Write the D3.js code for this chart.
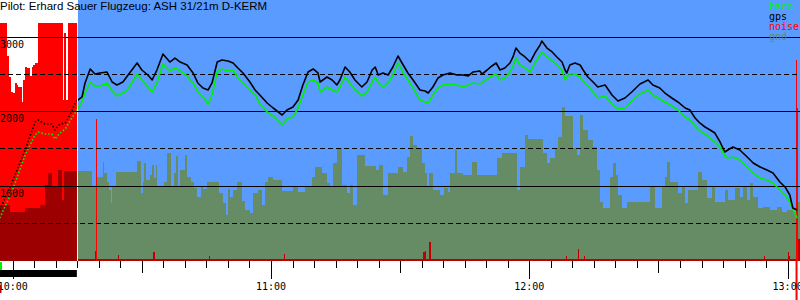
<!DOCTYPE html>
<html><head><meta charset="utf-8">
<script src="https://cdn.jsdelivr.net/npm/d3@7"></script>
<style>body{margin:0;background:#fff}svg{display:block}</style>
</head><body>
<svg id="c" width="800" height="300"></svg>
<script>
const title = "Pilot: Erhard Sauer Flugzeug: ASH 31/21m D-KERM";
// minutes after 10:00
const timeRange = [-2.95, 182.87];
const enginePhase = [-3.0, 14.9];
const glidePhase = [15.15, 182.9];
const landingMark = 181.95;

const times = [-3.0,-0.2,2.9,5.2,5.9,7.5,9.1,9.8,11.0,12.2,
13.3,14.5,14.9,16.1,16.8,18.0,19.1,20.3,21.9,23.1,
24.2,25.6,26.8,28.9,30.0,31.4,32.4,33.5,34.9,36.5,
37.7,38.9,40.5,41.9,43.0,44.2,45.4,46.3,47.5,48.6,
50.0,51.2,52.3,53.5,55.1,56.3,57.4,59.1,60.5,62.6,
63.7,65.1,66.3,67.4,68.6,69.8,70.9,71.4,73.0,74.2,
75.3,76.0,77.2,78.3,79.5,81.1,82.3,83.5,84.2,84.9,
86.0,87.2,88.3,89.5,90.7,91.8,93.0,94.6,95.8,96.5,
97.6,98.8,99.9,101.6,103.2,104.6,105.8,106.9,108.5,109.0,
110.2,111.3,112.3,113.2,114.3,115.5,116.2,116.9,117.8,119.0,
120.2,121.3,122.5,122.9,124.1,125.3,126.4,127.6,128.3,128.7,
129.4,130.6,131.8,132.5,133.6,134.8,135.9,137.6,139.2,140.6,
142.2,143.8,145.7,147.6,148.7,150.3,151.5,153.1,154.5,156.2,
157.3,158.5,159.6,160.8,162.0,163.1,164.3,165.4,166.1,167.3,
168.9,170.6,172.0,173.6,175.2,176.6,178.2,179.4,180.5,181.2,
182.2];

const gpsAlt = [678,1040,1483,1859,1886,1832,1832,1752,1832,1846,
1953,2114,2141,2195,2383,2571,2503,2517,2530,2396,
2356,2396,2490,2651,2557,2490,2423,2557,2772,2664,
2718,2664,2624,2517,2383,2315,2289,2383,2664,2691,
2678,2651,2584,2517,2396,2289,2221,2114,2047,1953,
2020,2060,2154,2356,2530,2571,2517,2396,2463,2423,
2356,2423,2597,2530,2423,2329,2396,2557,2597,2490,
2517,2490,2597,2745,2624,2517,2423,2289,2275,2248,
2329,2450,2490,2517,2490,2490,2477,2530,2544,2503,
2557,2611,2651,2557,2584,2651,2732,2852,2785,2732,
2664,2785,2893,2946,2852,2799,2732,2664,2557,2517,
2624,2651,2624,2557,2463,2396,2329,2356,2221,2141,
2181,2262,2369,2423,2356,2315,2248,2181,2128,2047,
2020,1913,1846,1792,1752,1711,1591,1456,1483,1524,
1483,1389,1309,1255,1215,1174,1054,987,879,705,
678];

const baroAlt = [570,919,1416,1685,1725,1698,1698,1631,1711,1765,
1873,1980,2020,2128,2248,2396,2342,2342,2383,2275,
2208,2248,2302,2503,2423,2329,2262,2383,2638,2544,
2584,2544,2477,2383,2262,2195,2101,2221,2530,2571,
2544,2557,2450,2383,2289,2221,2101,1993,1940,1819,
1899,1926,2047,2221,2396,2423,2383,2262,2329,2289,
2262,2329,2463,2383,2289,2208,2262,2396,2463,2383,
2329,2383,2490,2651,2517,2423,2315,2154,2128,2114,
2221,2315,2356,2369,2356,2329,2356,2383,2369,2383,
2436,2477,2503,2423,2450,2530,2611,2718,2624,2584,
2530,2651,2758,2799,2732,2678,2624,2557,2423,2463,
2503,2503,2463,2409,2342,2262,2181,2208,2101,2034,
2047,2141,2235,2289,2221,2168,2128,2074,2020,1926,
1886,1805,1738,1698,1644,1591,1524,1403,1376,1389,
1349,1255,1174,1107,1081,1040,946,879,785,691,
570];

const gndT = [-3.0,-0.6,2.9,6.3,7.5,8.2,9.1,10.5,11.5,11.9,
18.4,19.4,21.0,21.2,21.9,22.4,22.8,23.1,24.0,28.9,
29.8,30.3,30.5,31.0,31.9,32.4,32.8,33.3,33.5,35.1,
35.8,36.8,37.5,37.9,38.4,38.9,40.0,40.5,41.4,42.1,
42.8,43.7,44.2,45.1,47.9,48.9,49.5,50.0,50.5,51.2,
52.1,53.3,54.0,55.1,55.8,57.0,57.9,58.6,59.3,60.5,
62.6,65.1,66.3,67.9,69.5,70.2,71.8,73.0,73.7,74.4,
75.3,76.5,77.6,78.3,79.0,80.0,81.8,84.4,85.1,86.0,
87.2,89.5,90.7,91.6,92.3,93.0,93.9,95.1,95.8,96.2,
96.7,97.6,99.3,100.2,101.1,101.6,102.7,103.2,104.6,106.7,
107.8,112.5,113.7,117.1,117.8,119.0,119.7,123.2,124.1,124.8,
126.0,126.7,127.6,128.3,130.1,131.1,131.8,132.5,133.6,134.8,
135.7,136.4,137.1,138.7,139.4,140.1,140.6,141.5,142.7,148.0,
149.2,150.8,151.5,152.0,152.7,154.5,155.5,156.2,156.9,159.2,
160.1,161.3,162.4,163.1,165.4,166.1,167.8,168.9,169.6,170.6,
171.3,172.0,173.1,174.3,175.9,177.5,178.7,179.8,181.2,182.2,
182.9];

const gndAlt = [745,651,705,745,1013,1174,987,1215,812,1201,
987,1121,1322,1174,1054,946,772,987,1188,1336,
906,1054,1309,1081,1148,1282,1107,1282,987,1054,
1443,987,1174,1403,987,1215,1416,1121,1054,973,
852,987,960,1054,906,772,611,960,852,946,
1054,799,678,638,906,946,745,1054,1121,1081,
933,987,919,987,1121,1255,1174,1040,987,1309,
1510,1013,906,1013,745,1416,1268,1215,1282,879,
1174,1255,1188,1389,1671,1550,1510,1309,1174,1000,
1174,946,879,973,919,1174,1483,1174,1148,1322,
1148,1376,1443,946,1255,1685,1631,1443,1309,1376,
1510,1658,2060,1940,1510,1416,1953,1752,1617,1524,
1215,785,705,1121,1309,1148,879,705,785,987,
705,987,1121,1322,1054,906,987,772,946,1188,
1081,839,987,785,946,812,973,852,987,812,
1040,852,705,718,678,718,651,678,651,785,
785];

const noiseT = [-3.0,-1.4,-0.9,-0.4,0.1,0.5,1.0,1.2,1.7,2.2,
2.4,2.9,3.3,4.0,4.5,4.7,5.2,5.9,11.7,11.9,
12.4,12.8,14.9,15.15,19.1,19.35,19.6,24.4,24.65,32.7,
32.95,45.5,45.75,63.0,63.25,95.2,95.7,96.0,96.8,97.05,
128.6,128.85,131.4,131.65,132.6,132.85,174.6,174.85,180.0,180.25,
180.5,181.95,182.2,182.45,182.9];
const noiseV = [995,857,769,706,702,744,736,727,727,665,
757,811,807,774,811,820,828,995,673,954,
673,995,0,8,40,593,8,23,8,36,
8,19,8,27,8,36,40,8,77,8,
19,8,48,8,19,8,19,8,36,19,
8,840,640,92,92];

const altSolid = [1000, 2000, 3000];
const altDashed = [500, 1500, 2500];
const legendItems = ["baro", "gps", "noise", "gnd"];
const colors = {baro:"#00f000", gps:"#000000", noise:"#ff0000", gnd:"#658c64",
  sky:"#5a9bff", engineGnd:"#9c0000", lowNoise:"#c00000"};

const W = 800, H = 300;
const base = new Date(2000, 0, 1, 10, 0, 0);
const toDate = m => new Date(base.getTime() + m * 60000);
const x = d3.scaleTime().domain(timeRange.map(toDate)).range([0, W]);
const y = d3.scaleLinear().domain([0, 3000]).range([260.5, 37]);
const yn = d3.scaleLinear().domain([0, 1000]).range([260.5, 22]);
const xm = m => x(toDate(m));

const svg = d3.select("#c");
const defs = svg.append("defs");
defs.append("clipPath").attr("id","engClip").append("rect")
  .attr("x", xm(enginePhase[0])).attr("y", 0)
  .attr("width", xm(enginePhase[1]) - xm(enginePhase[0])).attr("height", H);
defs.append("clipPath").attr("id","glideClip").append("rect")
  .attr("x", xm(glidePhase[0])).attr("y", 0)
  .attr("width", W - xm(glidePhase[0])).attr("height", H);

// sky background during glide
svg.append("rect").attr("x", xm(glidePhase[0])).attr("y", 0)
  .attr("width", xm(glidePhase[1]) - xm(glidePhase[0])).attr("height", y(0))
  .attr("fill", colors.sky);

const gnd = gndT.map((t, i) => ({t, a: gndAlt[i]}));
const gArea = d3.area().x(d => xm(d.t)).y0(y(0)).y1(d => y(d.a)).curve(d3.curveStepAfter);
svg.append("path").datum(gnd).attr("d", gArea).attr("fill", colors.gnd)
  .attr("clip-path", "url(#glideClip)").attr("shape-rendering", "crispEdges");

// noise bars
const noise = noiseT.map((t, i) => ({t, v: noiseV[i]}));
const nb = [];
for (let i = 0; i < noise.length - 1; i++) {
  if (noise[i].v <= 0) continue;
  nb.push({x0: xm(noise[i].t), x1: xm(noise[i+1].t), v: noise[i].v});
}
svg.append("g").selectAll("rect").data(nb).join("rect")
  .attr("x", d => d.x0).attr("width", d => Math.max(1, d.x1 - d.x0))
  .attr("y", d => yn(d.v)).attr("height", d => yn(0) - yn(d.v))
  .attr("fill", d => d.v >= 300 ? colors.noise : colors.lowNoise)
  .attr("shape-rendering", "crispEdges");

svg.append("path").datum(gnd).attr("d", gArea).attr("fill", colors.engineGnd)
  .attr("clip-path", "url(#engClip)").attr("shape-rendering", "crispEdges");

// grid
const grid = svg.append("g").attr("stroke", "#000").attr("stroke-width", 1).attr("shape-rendering", "crispEdges");
altSolid.forEach(v => grid.append("line").attr("x1", 0).attr("x2", W)
  .attr("y1", Math.floor(y(v)) + 0.5).attr("y2", Math.floor(y(v)) + 0.5));
altDashed.forEach(v => grid.append("line").attr("x1", 0).attr("x2", W)
  .attr("y1", Math.floor(y(v)) + 0.5).attr("y2", Math.floor(y(v)) + 0.5)
  .attr("stroke-dasharray", "5,3"));

// altitude lines
const track = times.map((t, i) => ({t, g: gpsAlt[i], b: baroAlt[i]}));
const lb = d3.line().x(d => xm(d.t)).y(d => y(d.b));
const lg = d3.line().x(d => xm(d.t)).y(d => y(d.g));
[["glideClip", null], ["engClip", "1.5,2"]].forEach(([clip, dash]) => {
  svg.append("path").datum(track).attr("d", lb).attr("fill", "none")
    .attr("stroke", colors.baro).attr("stroke-width", 1.6).attr("stroke-linejoin", "round")
    .attr("stroke-dasharray", dash).attr("clip-path", `url(#${clip})`);
  svg.append("path").datum(track).attr("d", lg).attr("fill", "none")
    .attr("stroke", colors.gps).attr("stroke-width", 1.6).attr("stroke-linejoin", "round")
    .attr("stroke-dasharray", dash).attr("clip-path", `url(#${clip})`);
});

// landing cursor
svg.append("line").attr("x1", xm(landingMark) + 0.5).attr("x2", xm(landingMark) + 0.5)
  .attr("y1", yn(0)).attr("y2", H).attr("stroke", colors.noise).attr("stroke-width", 2);

// time axis
const ticks = x.ticks(d3.timeMinute.every(5));
const ax = svg.append("g");
ticks.forEach(d => {
  const m = d.getMinutes();
  const len = m === 0 ? 18 : (m === 30 ? 12 : 7);
  const px = Math.round(x(d)) + 0.5;
  ax.append("line").attr("x1", px).attr("x2", px).attr("y1", 261).attr("y2", 261 + len)
    .attr("stroke", "#000").attr("stroke-width", 1).attr("shape-rendering", "crispEdges");
  if (m === 0) ax.append("text").attr("x", x(d)).attr("y", 290).attr("text-anchor", "middle")
    .attr("font-family", "DejaVu Sans Mono, monospace").attr("font-size", 10)
    .text(d3.timeFormat("%H:%M")(d));
});
// engine run bar
svg.append("rect").attr("x", xm(enginePhase[0])).attr("y", 270)
  .attr("width", xm(enginePhase[1]) - xm(enginePhase[0])).attr("height", 7).attr("fill", "#000");
svg.append("rect").attr("x", xm(timeRange[0])).attr("y", 262).attr("width", 2).attr("height", 8).attr("fill", colors.baro);
svg.append("rect").attr("x", xm(timeRange[0])).attr("y", 285).attr("width", 1.5).attr("height", 8).attr("fill", colors.lowNoise);

// altitude labels
altSolid.forEach(v => svg.append("text").attr("x", 0).attr("y", Math.floor(y(v)) + 10.5)
  .attr("font-family", "DejaVu Sans Mono, monospace").attr("font-size", 10).text(v));

// title
svg.append("text").attr("x", 0).attr("y", 9.5)
  .attr("font-family", "Liberation Sans, Arial, sans-serif").attr("font-size", 11.5).text(title);

// legend
const lcol = {baro: colors.baro, gps: colors.gps, noise: colors.noise, gnd: colors.gnd};
legendItems.forEach((k, i) => svg.append("text").attr("x", 769).attr("y", 10 + i * 10)
  .attr("font-family", "DejaVu Sans Mono, monospace").attr("font-size", 10)
  .attr("fill", lcol[k]).text(k));
</script>
</body></html>
